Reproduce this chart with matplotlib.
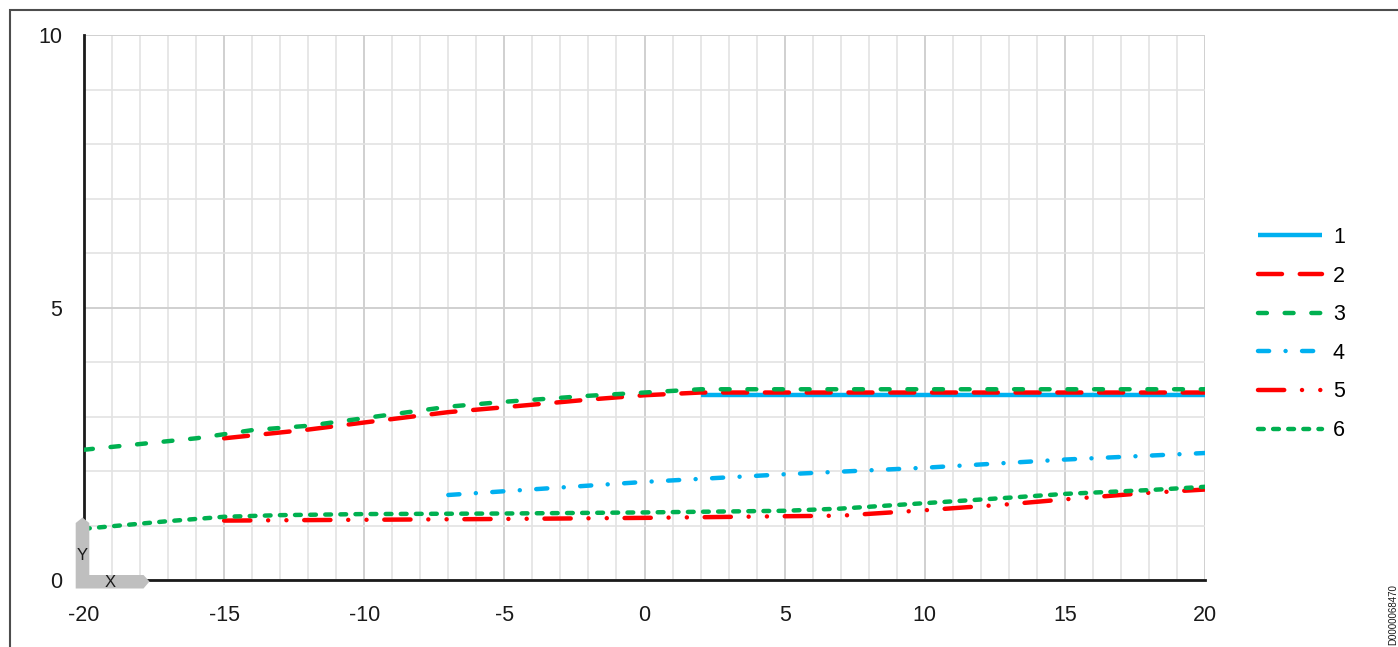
import matplotlib
matplotlib.use('Agg')
import matplotlib.pyplot as plt
from matplotlib.patches import Polygon, Rectangle
from matplotlib.ticker import MultipleLocator

plt.rcParams['font.family'] = ['Liberation Sans', 'DejaVu Sans']

# ---- data ----
labels = ['1', '2', '3', '4', '5', '6']
s1_x = [2, 20]
s1_y = [3.39, 3.39]
s2_x = [-15, -12, -10, -7, -5, -2, 0, 2, 20]
s2_y = [2.60, 2.76, 2.89, 3.08, 3.17, 3.31, 3.39, 3.44, 3.44]
s3_x = [-20, -16, -14, -12, -10, -7, -5, -2, 0, 2, 20]
s3_y = [2.39, 2.60, 2.75, 2.83, 2.97, 3.18, 3.27, 3.38, 3.44, 3.50, 3.50]
s4_x = [-7, 0, 5, 10, 15, 20]
s4_y = [1.56, 1.80, 1.94, 2.06, 2.21, 2.33]
s5_x = [-15, -5, 0, 5, 7, 10, 13, 15, 18, 20]
s5_y = [1.09, 1.12, 1.14, 1.17, 1.18, 1.28, 1.39, 1.48, 1.60, 1.66]
s6_x = [-20, -18.5, -17, -15, -13, -10, -5, 0, 5, 7, 10, 13, 15, 18, 20]
s6_y = [0.94, 1.01, 1.08, 1.16, 1.19, 1.21, 1.22, 1.24, 1.27, 1.31, 1.41, 1.51, 1.58, 1.65, 1.71]
x_ticks = [-20, -15, -10, -5, 0, 5, 10, 15, 20]
y_ticks = [0, 5, 10]

CYAN = '#00B0F0'
RED = '#FF0000'
GREEN = '#00B050'

W, H = 1398, 647
fig = plt.figure(figsize=(W / 100, H / 100), dpi=100)
ax = fig.add_axes([84 / W, 1 - 580 / H, (1205 - 84) / W, (580 - 35) / H])

lw = 3.2
series = [
    (s1_x, s1_y, CYAN, None),
    (s2_x, s2_y, RED, (5.4, 4.0)),
    (s3_x, s3_y, GREEN, (2.0, 4.0)),
    (s4_x, s4_y, CYAN, (2.5, 3.7, 0.01, 3.7)),
    (s5_x, s5_y, RED, (5.9, 4.0, 0.01, 4.1, 0.01, 4.0)),
    (s6_x, s6_y, GREEN, (1.3, 2.1)),
]
handles = []
for (xs, ys, c, d), lab in zip(series, labels):
    if d is None:
        ln, = ax.plot(xs, ys, color=c, lw=lw, solid_capstyle='butt', label=lab, zorder=3)
    else:
        ln, = ax.plot(xs, ys, color=c, lw=lw, dashes=d, dash_capstyle='round',
                      label=lab, zorder=3)
    handles.append(ln)

ax.set_xlim(-20, 20)
ax.set_ylim(0, 10)
ax.xaxis.set_minor_locator(MultipleLocator(1))
ax.yaxis.set_minor_locator(MultipleLocator(1))
ax.set_xticks(x_ticks)
ax.set_yticks(y_ticks)
ax.set_xticklabels([str(v) for v in x_ticks])
ax.set_yticklabels([str(v) for v in y_ticks])
ax.grid(which='minor', color='#E3E3E3', lw=1.2, zorder=0)
ax.grid(which='major', color='#D0D0D0', lw=1.4, zorder=0)
ax.set_axisbelow(True)
ax.tick_params(which='both', length=0)
ax.tick_params(axis='x', pad=18, labelsize=15.5, labelcolor='#1A1A1A')
ax.tick_params(axis='y', pad=15.5, labelsize=15.5, labelcolor='#1A1A1A')
for s in ['top', 'right']:
    ax.spines[s].set_visible(False)
for s in ['left', 'bottom']:
    ax.spines[s].set_color('#1A1A1A')
    ax.spines[s].set_linewidth(2)

leg = ax.legend(handles=handles, labels=labels, loc='center left',
                bbox_to_anchor=(1258 / W, 1 - 334 / H), bbox_transform=fig.transFigure,
                frameon=False, fontsize=15.5, handlelength=2.98, handletextpad=0.5,
                labelspacing=0.82, borderpad=0, borderaxespad=0)

# XY icon
def P(x, y):
    return (x / W, 1 - y / H)

icon = Polygon([P(75.7, 588.5), P(75.7, 523), P(82.5, 517.5), P(89.3, 523), P(89.3, 575),
                P(143.5, 575), P(149.5, 581.5), P(143.5, 588.5)],
               closed=True, transform=fig.transFigure, facecolor='#BFBFBF',
               edgecolor='none', zorder=10)
fig.patches.append(icon)
fig.text(*P(82, 556), 'Y', fontsize=12, ha='center', va='center', color='#1A1A1A', zorder=11)
fig.text(*P(110, 582.5), 'X', fontsize=12, ha='center', va='center', color='#1A1A1A', zorder=11)

# outer frame (top and left)
frame = Rectangle(P(10, 700), (W + 10) / W, (700 - 10) / H, transform=fig.transFigure,
                  facecolor='none', edgecolor='#4D4D4D', lw=1.5, zorder=0)
fig.patches.append(frame)

fig.text(*P(1393, 615), 'D0000068470', rotation=90, fontsize=7, ha='center',
         va='center', color='#1A1A1A')

fig.savefig('out.png', dpi=100)
